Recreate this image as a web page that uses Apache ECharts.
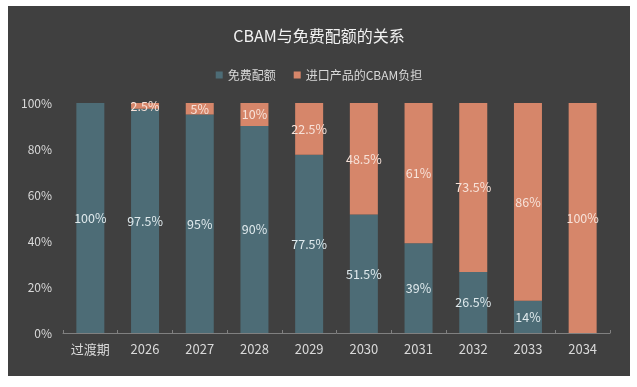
<!DOCTYPE html>
<html>
<head>
<meta charset="utf-8">
<script src="https://cdn.jsdelivr.net/npm/echarts@6/dist/echarts.min.js"></script>
<style>
html,body{margin:0;padding:0;background:#ffffff;width:637px;height:387px;overflow:hidden;}
#chart{position:absolute;left:8px;top:6px;width:622px;height:370px;}
</style>
</head>
<body>
<div id="chart"></div>
<script>
const categories = ['过渡期','2026','2027','2028','2029','2030','2031','2032','2033','2034'];
const freeQuota = [100,97.5,95,90,77.5,51.5,39,26.5,14,0];
const cbamBurden = [0,2.5,5,10,22.5,48.5,61,73.5,86,100];
const seriesNames = ['免费配额','进口产品的CBAM负担'];
const titleText = 'CBAM与免费配额的关系';

const FONT = '"Noto Sans CJK SC", "Noto Sans", sans-serif';
const chart = echarts.init(document.getElementById('chart'));
const fmt = p => p.value === 0 ? '' : p.value + '%';
chart.setOption({
  backgroundColor: '#404040',
  animation: false,
  title: {
    text: titleText, left: 'center', top: 17,
    textStyle: {color: '#f2f2f2', fontSize: 16, fontWeight: 'normal', fontFamily: FONT}
  },
  legend: {
    data: seriesNames, left: 'center', top: 58,
    itemWidth: 7, itemHeight: 7, itemGap: 18, icon: 'rect',
    textStyle: {color: '#d9d9d9', fontSize: 12, fontFamily: FONT}
  },
  grid: {left: 55, right: 20, top: 97, bottom: 43},
  xAxis: {
    type: 'category', data: categories,
    axisLine: {lineStyle: {color: '#808080'}},
    axisTick: {show: true, inside: true, length: 3, lineStyle: {color: '#808080'}},
    axisLabel: {color: '#d9d9d9', fontSize: 13, margin: 10, fontFamily: FONT}
  },
  yAxis: {
    type: 'value', min: 0, max: 100, interval: 20,
    splitLine: {show: false},
    axisLine: {show: false}, axisTick: {show: false},
    axisLabel: {color: '#d9d9d9', fontSize: 12, margin: 11, formatter: '{value}%', fontFamily: FONT}
  },
  series: [
    {
      name: seriesNames[0], type: 'bar', stack: 'total', data: freeQuota,
      barWidth: 28,
      itemStyle: {color: '#4d6c76'},
      label: {show: true, position: 'inside', formatter: fmt, color: '#dfe9ec', fontSize: 12.5, fontFamily: FONT}
    },
    {
      name: seriesNames[1], type: 'bar', stack: 'total', data: cbamBurden,
      barWidth: 28,
      itemStyle: {color: '#d6866a'},
      label: {show: true, position: 'inside', formatter: fmt, color: '#f7e2d9', fontSize: 12.5, fontFamily: FONT}
    }
  ]
});
</script>
</body>
</html>
